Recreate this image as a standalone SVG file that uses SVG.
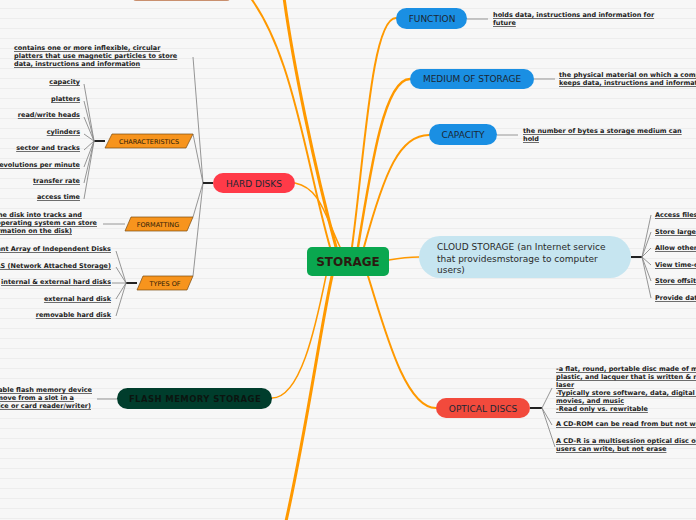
<svg xmlns="http://www.w3.org/2000/svg" width="696" height="520" viewBox="0 0 696 520">
<defs>
<pattern id="bg" width="10" height="10" patternUnits="userSpaceOnUse">
<rect width="10" height="10" fill="#f7f7f7"/>
<line x1="0" y1="8.5" x2="10" y2="8.5" stroke="#ededed" stroke-width="1"/>
</pattern>
<style>
text{font-family:"DejaVu Sans",Verdana,sans-serif}
.c{font-size:6.5px;font-weight:bold;fill:#222;text-decoration:underline}
.n{font-size:9px;fill:#1b2733;text-anchor:middle}
.s{font-size:6.5px;fill:#2a1a08;text-anchor:middle}
.e{text-anchor:end}
.o{fill:none;stroke:#ff9900;stroke-linecap:round}
.g{fill:none;stroke:#8a8a8a;stroke-width:0.9}
.h{fill:none;stroke:#222;stroke-width:2}
.pb{fill:#1a8fe3}
.par{fill:#f7941d;stroke:#7a4a10;stroke-width:0.7}
</style>
</defs>
<rect width="696" height="520" fill="url(#bg)"/>

<g id="connectors">
<path class="o" stroke-width="2" d="M330 247 C305 160 292 40 240 -15"/>
<path class="o" stroke-width="3" d="M336 247 C315 170 292 60 283 -10"/>
<path class="o" stroke-width="1.5" d="M340 247 C325 215 320 188 295 183"/>
<path class="o" stroke-width="2" d="M352 247 C365 150 372 18 396 18"/>
<path class="o" stroke-width="2.5" d="M358 247 C372 160 385 79 410 79"/>
<path class="o" stroke-width="2" d="M364 247 C385 170 400 135 429 135"/>
<path class="o" stroke-width="1.5" d="M389 260 C400 258 410 257 419 257"/>
<path class="o" stroke-width="3" d="M332 276 C320 330 305 440 284 530"/>
<path class="o" stroke-width="1.5" d="M326 276 C315 330 300 398 272 398"/>
<path class="o" stroke-width="2" d="M368 276 C385 330 405 408 436 408"/>

<path class="g" d="M203 183 L193 57"/>
<path class="g" d="M203 183 L193 134"/>
<path class="g" d="M203 183 L193 217"/>
<path class="g" d="M203 183 L193 276"/>
<path class="h" d="M203 183 L213 183"/>

<path class="h" d="M94 141 L105 141"/>
<path class="g" d="M94 141 L84 84 M94 141 L84 101 M94 141 L84 117 M94 141 L84 134 M94 141 L84 150 M94 141 L84 167 M94 141 L84 183 M94 141 L84 199"/>
<path class="g" d="M103 224 L125 224"/>
<path class="h" d="M126 283 L137 283"/>
<path class="g" d="M126 283 L116 251 M126 283 L116 267 M126 283 L112 283 M126 283 L116 299 M126 283 L116 316"/>
<path class="g" d="M97 399 L117 399"/>

<path class="g" d="M467 19 L488 19"/>
<path class="g" d="M534 79 L555 79"/>
<path class="g" d="M497 135 L518 135"/>

<path class="h" d="M631 257 L642 257"/>
<path class="g" d="M642 257 L651 215 M642 257 L651 232 M642 257 L651 248 M642 257 L651 265 M642 257 L651 281 M642 257 L651 298"/>
<path class="h" d="M530 408 L542 408"/>
<path class="g" d="M542 408 L552 388 M542 408 L552 425 M542 408 L555 447"/>
</g>

<g id="top-node"><rect x="133" y="-20" width="97" height="21" rx="3" fill="#c98f6e"/></g>

<g id="storage">
<rect x="307" y="247" width="82" height="29" rx="5" fill="#0aa74f"/>
<text x="348" y="266" font-size="12" font-weight="bold" fill="#2a1a10" text-anchor="middle">STORAGE</text>
</g>

<g id="function">
<rect class="pb" x="396" y="8" width="71" height="21" rx="10.5"/>
<text class="n" x="432" y="22">FUNCTION</text>
<text class="c" x="493" y="17">holds data, instructions and information for</text>
<text class="c" x="493" y="25">future</text>
</g>

<g id="medium">
<rect class="pb" x="410" y="69" width="124" height="20" rx="10"/>
<text class="n" x="472" y="82">MEDIUM OF STORAGE</text>
<text class="c" x="559" y="77">the physical material on which a computer</text>
<text class="c" x="559" y="85">keeps data, instructions and information</text>
</g>

<g id="capacity">
<rect class="pb" x="429" y="124" width="68" height="21" rx="10.5"/>
<text class="n" x="463" y="138">CAPACITY</text>
<text class="c" x="523" y="133">the number of bytes a storage medium can</text>
<text class="c" x="523" y="141">hold</text>
</g>

<g id="cloud">
<rect x="419" y="236" width="212" height="42" rx="21" fill="#c6e5f0"/>
<text x="437" y="250" font-size="9" fill="#2a2a2a">CLOUD STORAGE (an Internet service</text>
<text x="437" y="261.5" font-size="9" fill="#2a2a2a">that providesmstorage to computer</text>
<text x="437" y="273" font-size="9" fill="#2a2a2a">users)</text>
<text class="c" x="655" y="217">Access files from any computer</text>
<text class="c" x="655" y="234">Store large audio, video and graphics files</text>
<text class="c" x="655" y="250">Allow others to access their files</text>
<text class="c" x="655" y="267">View time-critical data and images</text>
<text class="c" x="655" y="283">Store offsite backups of data</text>
<text class="c" x="655" y="300">Provide data center functions</text>
</g>

<g id="optical">
<rect x="436" y="398" width="94" height="20" rx="10" fill="#f24a3c"/>
<text class="n" x="483" y="411.5">OPTICAL DISCS</text>
<text class="c" x="556" y="371">-a flat, round, portable disc made of metal,</text>
<text class="c" x="556" y="379">plastic, and lacquer that is written &amp; read by a</text>
<text class="c" x="556" y="387">laser</text>
<text class="c" x="556" y="395">-Typically store software, data, digital photos,</text>
<text class="c" x="556" y="403">movies, and music</text>
<text class="c" x="556" y="411">-Read only vs. rewritable</text>
<text class="c" x="556" y="426">A CD-ROM can be read from but not written to</text>
<text class="c" x="556" y="443">A CD-R is a multisession optical disc on which</text>
<text class="c" x="556" y="451">users can write, but not erase</text>
</g>

<g id="hard-disks">
<rect x="213" y="173" width="82" height="20" rx="10" fill="#ff3a48"/>
<text class="n" x="254" y="186.5">HARD DISKS</text>
<text class="c" x="14" y="50">contains one or more inflexible, circular</text>
<text class="c" x="14" y="58">platters that use magnetic particles to store</text>
<text class="c" x="14" y="66">data, instructions and information</text>
</g>

<g id="characteristics">
<polygon class="par" points="112,134 193,134 186,148 105,148"/>
<text class="s" x="149" y="143.5">CHARACTERISTICS</text>
<text class="c e" x="80" y="84">capacity</text>
<text class="c e" x="80" y="101">platters</text>
<text class="c e" x="80" y="117">read/write heads</text>
<text class="c e" x="80" y="134">cylinders</text>
<text class="c e" x="80" y="150">sector and tracks</text>
<text class="c e" x="80" y="167">revolutions per minute</text>
<text class="c e" x="80" y="183">transfer rate</text>
<text class="c e" x="80" y="199">access time</text>
</g>

<g id="formatting">
<polygon class="par" points="131,217 193,217 187,231 125,231"/>
<text class="s" x="158" y="226.5">FORMATTING</text>
<text class="c e" x="82" y="217">(dividing the disk into tracks and</text>
<text class="c e" x="97" y="225">sectors so that the operating system can store</text>
<text class="c e" x="72" y="233">and locate information on the disk)</text>
</g>

<g id="types-of">
<polygon class="par" points="143,276 193,276 187,290 137,290"/>
<text class="s" x="165" y="285.5">TYPES OF</text>
<text class="c e" x="111" y="251">Redundant Array of Independent Disks</text>
<text class="c e" x="111" y="268">NAS (Network Attached Storage)</text>
<text class="c e" x="111" y="284">internal &amp; external hard disks</text>
<text class="c e" x="111" y="301">external hard disk</text>
<text class="c e" x="111" y="317">removable hard disk</text>
</g>

<g id="flash">
<rect x="117" y="388" width="155" height="21" rx="10.5" fill="#003d2c"/>
<text x="195" y="402" font-size="8.5" font-weight="bold" fill="#0b1510" text-anchor="middle" letter-spacing="0.4">FLASH MEMORY STORAGE</text>
<text class="c e" x="92" y="392">(removable flash memory device</text>
<text class="c e" x="74" y="400">that you insert and remove from a slot in a</text>
<text class="c e" x="91" y="408">computer, mobile device or card reader/writer)</text>
</g>
</svg>
